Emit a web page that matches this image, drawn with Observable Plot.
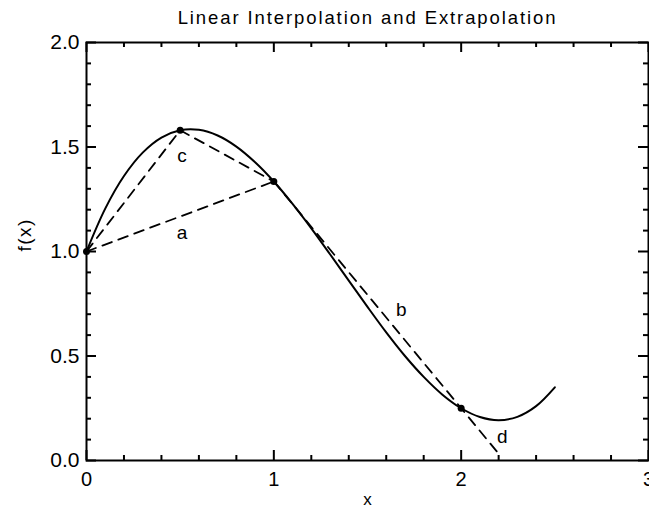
<!DOCTYPE html>
<html><head><meta charset="utf-8">
<script src="https://cdn.jsdelivr.net/npm/d3@7"></script>
<script src="https://cdn.jsdelivr.net/npm/@observablehq/plot@0.6"></script>
<style>body{margin:0;background:#fff} svg{display:block}</style>
</head><body><div id="chart"></div>
<script>
const title = "Linear Interpolation and Extrapolation";
const xTitle = "x";
const yTitle = "f(x)";
// solid curve f(x)
const curveX = [0,0.1,0.2,0.3,0.4,0.5,0.6,0.7,0.8,0.9,1.0,1.1,1.2,1.3,1.4,1.5,1.6,1.7,1.8,1.9,2.0,2.1,2.2,2.3,2.4,2.5];
const curveY = [1.0,1.205,1.361,1.473,1.545,1.58,1.582,1.555,1.502,1.427,1.335,1.228,1.111,0.987,0.861,0.735,0.613,0.50,0.40,0.315,0.25,0.208,0.193,0.209,0.26,0.35];
// sampled points
const knotX = [0,0.5,1,2];
const knotY = [1.0,1.58,1.335,0.25];
// dashed interpolation / extrapolation lines
const lineAX = [0,1];        const lineAY = [1.0,1.335];
const lineCX = [0,0.5,1];    const lineCY = [1.0,1.58,1.335];
const lineBX = [1,2,2.2];    const lineBY = [1.335,0.25,0.033];
// annotation letters
const noteText = ["a","b","c","d"];
const noteX = [0.51,1.68,0.51,2.22];
const noteY = [1.09,0.72,1.455,0.115];
// ticks
const xMajor = [0,1,2,3];
const xMinor = [0.2,0.4,0.6,0.8,1.2,1.4,1.6,1.8,2.2,2.4,2.6,2.8];
const yMajor = [0,0.5,1,1.5,2];
const yMinor = [0.1,0.2,0.3,0.4,0.6,0.7,0.8,0.9,1.1,1.2,1.3,1.4,1.6,1.7,1.8,1.9];

const W = 649, H = 510, mL = 86, mR = 1, mT = 42, mB = 50;
const iW = W - mL - mR, iH = H - mT - mB;
const majLen = 10, minLen = 5;

const curve = curveX.map((x,i)=>({x, y: curveY[i]}));
const knots = knotX.map((x,i)=>({x, y: knotY[i]}));
const lineA = lineAX.map((x,i)=>({x, y: lineAY[i]}));
const lineC = lineCX.map((x,i)=>({x, y: lineCY[i]}));
const lineB = lineBX.map((x,i)=>({x, y: lineBY[i]}));
const notes = noteText.map((t,i)=>({t, x: noteX[i], y: noteY[i]}));

const dash = {stroke:"black", strokeWidth:1.8, strokeDasharray:"10,7"};
const font = "'Liberation Sans', Arial, Helvetica, sans-serif";

const chart = Plot.plot({
  width: W, height: H,
  marginLeft: mL, marginRight: mR, marginTop: mT, marginBottom: mB,
  x: {domain:[0,3], axis:null},
  y: {domain:[0,2], axis:null},
  style: {fontFamily: font, fontSize: "19px", color: "black", background: "white"},
  marks: [
    Plot.frame({stroke:"black", strokeWidth:2}),
    // x ticks bottom / top
    Plot.tickX(xMajor, {x: d=>d, insetTop: iH - majLen, strokeWidth:2}),
    Plot.tickX(xMinor, {x: d=>d, insetTop: iH - minLen, strokeWidth:2}),
    Plot.tickX(xMajor, {x: d=>d, insetBottom: iH - majLen, strokeWidth:2}),
    Plot.tickX(xMinor, {x: d=>d, insetBottom: iH - minLen, strokeWidth:2}),
    // y ticks left / right
    Plot.tickY(yMajor, {y: d=>d, insetRight: iW - majLen, strokeWidth:2}),
    Plot.tickY(yMinor, {y: d=>d, insetRight: iW - minLen, strokeWidth:2}),
    Plot.tickY(yMajor, {y: d=>d, insetLeft: iW - majLen, strokeWidth:2}),
    Plot.tickY(yMinor, {y: d=>d, insetLeft: iW - minLen, strokeWidth:2}),
    // tick labels
    Plot.text(xMajor, {x: d=>d, frameAnchor:"bottom", lineAnchor:"middle", dy: 19, text: d=>String(d), fontSize: 20}),
    Plot.text(yMajor, {y: d=>d, frameAnchor:"left", dx: -7, textAnchor:"end", text: d=>d.toFixed(1), fontSize: 21}),
    // axis titles
    Plot.text([xTitle], {frameAnchor:"bottom", lineAnchor:"middle", dy: 39, text: d=>d, fontSize: 17}),
    Plot.text([yTitle], {frameAnchor:"left", dx: -62, rotate: -90, text: d=>d, fontSize: 19}),
    Plot.text([title], {frameAnchor:"top", lineAnchor:"middle", dy: -24, text: d=>d, fontSize: 18.5}),
    // data
    Plot.line(curve, {x:"x", y:"y", curve:"catmull-rom", stroke:"black", strokeWidth:2}),
    Plot.line(lineA, {x:"x", y:"y", ...dash}),
    Plot.line(lineC, {x:"x", y:"y", ...dash}),
    Plot.line(lineB, {x:"x", y:"y", ...dash}),
    Plot.dot(knots, {x:"x", y:"y", r:3.5, fill:"black"}),
    Plot.text(notes, {x:"x", y:"y", text:"t", fontSize: 19})
  ]
});
// widen the title and y title letter spacing to match the wide vector font
d3.select(chart).selectAll("text").each(function() {
  const t = this.textContent;
  if (t === title) this.style.letterSpacing = "1.9px";
  if (t === yTitle) this.style.letterSpacing = "1.5px";
});
document.getElementById("chart").append(chart);
</script>
</body></html>
